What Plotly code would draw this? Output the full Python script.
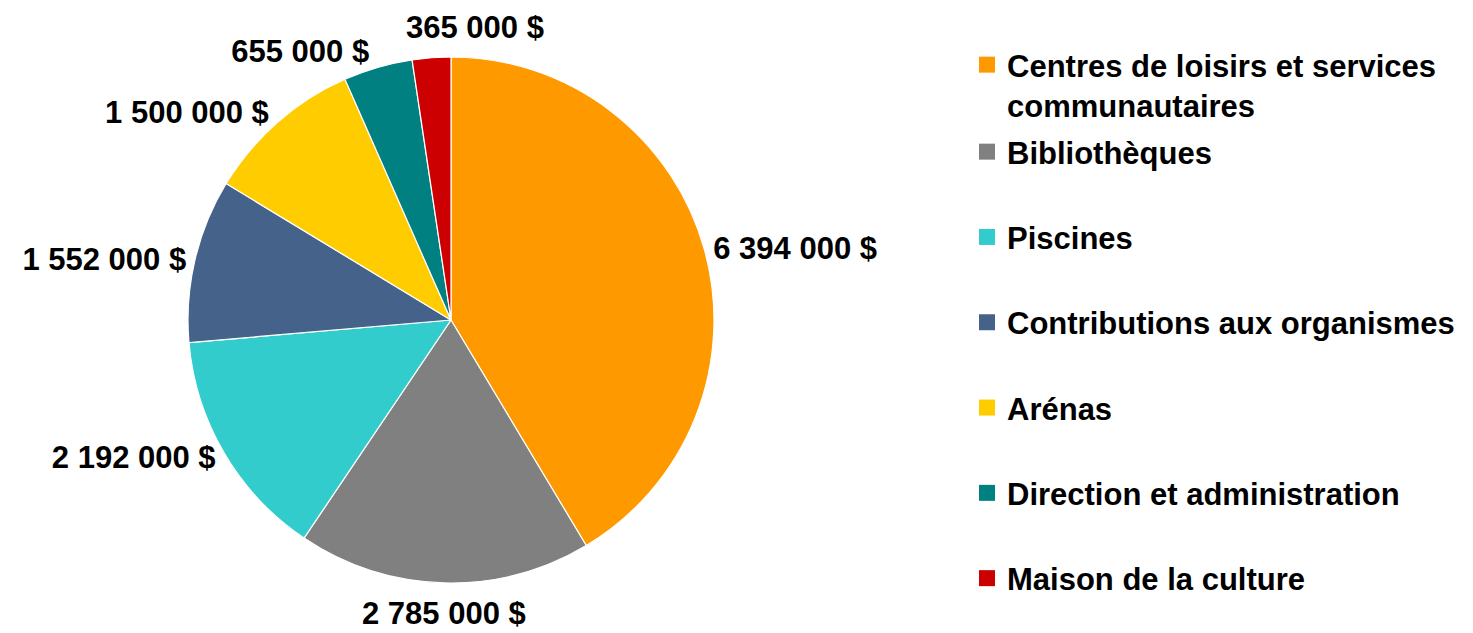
import math
import plotly.graph_objects as go

categories = [
    "Centres de loisirs et services<br>communautaires",
    "Bibliothèques",
    "Piscines",
    "Contributions aux organismes",
    "Arénas",
    "Direction et administration",
    "Maison de la culture",
]
values = [6394000, 2785000, 2192000, 1552000, 1500000, 655000, 365000]
colors = ["#FF9900", "#808080", "#33CCCC", "#44628A", "#FFCC00", "#008080", "#CC0000"]
# slices whose value label is set as an annotation instead of the pie's own text
annotated = {1: "below", 6: "top"}

W, H = 1473, 633
FONT = dict(family="Liberation Sans, Arial, sans-serif", size=31, color="black", weight="bold")

# pie geometry (pixels)
cx, cy, r = 451, 320, 263
dom_x = [(cx - r) / W, (cx + r) / W]
dom_y = [(H - (cy + r)) / H, (H - (cy - r)) / H]


def fmt(v):
    return f"{v:,}".replace(",", " ") + " $"


texts = ["" if i in annotated else "%{value:,.0f} $" for i in range(len(values))]

fig = go.Figure()
fig.add_trace(go.Pie(
    labels=categories,
    values=values,
    sort=False,
    direction="clockwise",
    rotation=0,
    marker=dict(colors=colors, line=dict(color="white", width=1.2)),
    textposition="outside",
    texttemplate=texts,
    textfont=FONT,
    showlegend=False,
    domain=dict(x=dom_x, y=dom_y),
    hoverinfo="label+value",
))

# annotations for labels of selected slices, positioned from slice angles
total = sum(values)
cum = 0
annotations = []
for i, v in enumerate(values):
    a0 = cum / total * 2 * math.pi
    a1 = (cum + v) / total * 2 * math.pi
    am = (a0 + a1) / 2
    cum += v
    if i not in annotated:
        continue
    if annotated[i] == "below":
        px = cx + math.sin(am) * (r + 11)
        py = cy - math.cos(am) * (r + 11)
        annotations.append(dict(x=px / W, y=1 - py / H, xref="paper", yref="paper",
                                text=fmt(v), showarrow=False, font=FONT,
                                xanchor="center", yanchor="top"))
    else:
        px = cx + math.sin(a0) * r - 8
        py = cy - r - 10
        annotations.append(dict(x=px / W, y=1 - py / H, xref="paper", yref="paper",
                                text=fmt(v), showarrow=False, font=FONT,
                                xanchor="left", yanchor="bottom"))

for i, (lab, col) in enumerate(zip(categories, colors)):
    fig.add_trace(go.Scatter(
        x=[None], y=[None], mode="markers",
        marker=dict(symbol="square", size=16, color=col),
        name=lab,
        legend="legend" if i == 0 else "legend2",
        legendgroup=f"g{i}",
        showlegend=True,
        hoverinfo="skip",
    ))

fig.update_layout(
    width=W, height=H,
    margin=dict(l=0, r=0, t=0, b=0),
    paper_bgcolor="white",
    plot_bgcolor="white",
    separators=", ",
    xaxis=dict(visible=False),
    yaxis=dict(visible=False),
    annotations=annotations,
    legend=dict(
        x=967 / W, y=1 - 38 / H, xanchor="left", yanchor="top",
        font=FONT, valign="top", bgcolor="rgba(0,0,0,0)",
    ),
    legend2=dict(
        x=967 / W, y=1 - 125 / H, xanchor="left", yanchor="top",
        font=FONT, valign="middle", tracegroupgap=42, bgcolor="rgba(0,0,0,0)",
    ),
)

fig.write_html("out.html")
